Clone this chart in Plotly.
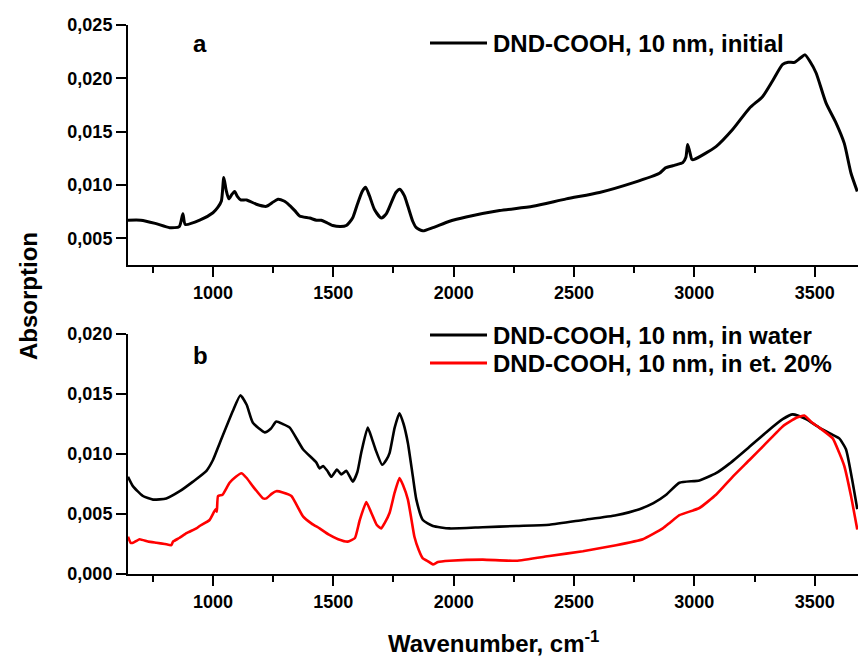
import plotly.graph_objects as go

# ---- spectrum (a): DND-COOH, 10 nm, initial ----
wn_a = [647, 700, 760, 820, 860, 875, 885, 945, 1000, 1020, 1035, 1045, 1055, 1066,
        1078, 1090, 1102, 1115, 1140, 1180, 1222, 1250, 1270, 1295, 1318, 1340, 1360,
        1402, 1430, 1450, 1470, 1498, 1530, 1554, 1580, 1600, 1620, 1634, 1650, 1671,
        1699, 1720, 1740, 1760, 1776, 1795, 1810, 1830, 1845, 1872, 1914, 1983, 2052,
        2191, 2329, 2468, 2606, 2744, 2855, 2880, 2910, 2940, 2952, 2965, 2972, 2980,
        2990, 3000, 3090, 3159, 3229, 3284, 3326, 3367, 3390, 3416, 3440, 3460, 3480,
        3506, 3547, 3589, 3623, 3651, 3677]
abs_initial = [0.0067, 0.0067, 0.0064, 0.0060, 0.0061, 0.0073, 0.0063, 0.0067, 0.0074,
               0.0079, 0.0085, 0.0107, 0.0095, 0.0087, 0.0091, 0.0094, 0.0089, 0.0086,
               0.0086, 0.0082, 0.0080, 0.0084, 0.00866, 0.0085, 0.0081, 0.0076, 0.0071,
               0.0069, 0.0067, 0.0067, 0.0065, 0.0062, 0.0061, 0.0062, 0.0069, 0.0082,
               0.0094, 0.0098, 0.0090, 0.0077, 0.0069, 0.0073, 0.0083, 0.0093, 0.0096,
               0.0090, 0.0080, 0.0066, 0.0060, 0.0057, 0.0060, 0.0066, 0.0070, 0.0076,
               0.0080, 0.0087, 0.0093, 0.0102, 0.0111, 0.0116, 0.0118, 0.0120, 0.0121,
               0.0126, 0.0138, 0.0132, 0.0124, 0.0124, 0.0136, 0.0152, 0.0172, 0.0183,
               0.0198, 0.0213, 0.0215, 0.0215, 0.0219, 0.0222, 0.0216, 0.0205, 0.0177,
               0.0158, 0.0139, 0.0111, 0.0094]

# ---- spectrum (b1): DND-COOH, 10 nm, in water ----
wn_water = [647, 668, 709, 751, 806, 862, 917, 973, 1000, 1028, 1083, 1114, 1140, 1166,
            1215, 1240, 1263, 1290, 1319, 1374, 1429, 1443, 1457, 1475, 1492, 1515, 1533,
            1554, 1581, 1600, 1616, 1643, 1660, 1675, 1703, 1720, 1734, 1755, 1775, 1792,
            1810, 1830, 1845, 1872, 1914, 1983, 2121, 2260, 2398, 2537, 2675, 2772, 2830,
            2883, 2938, 3021, 3090, 3146, 3229, 3298, 3367, 3409, 3464, 3519, 3575, 3602,
            3630, 3658, 3677]
abs_water = [0.0081, 0.0073, 0.0065, 0.0062, 0.0063, 0.0069, 0.0077, 0.0086, 0.0095,
             0.0109, 0.0136, 0.0149, 0.0141, 0.0126, 0.0118, 0.0121, 0.0127, 0.0125,
             0.0122, 0.0104, 0.0093, 0.0088, 0.0090, 0.0086, 0.0081, 0.0087, 0.0083,
             0.0086, 0.0077, 0.0085, 0.0101, 0.0122, 0.0113, 0.0104, 0.0091, 0.0095,
             0.0101, 0.0122, 0.0134, 0.0125, 0.0109, 0.0082, 0.0062, 0.0045, 0.0040,
             0.0038, 0.0039, 0.0040, 0.0041, 0.0045, 0.0049, 0.0054, 0.0059, 0.0066,
             0.0076, 0.0078, 0.0084, 0.0092, 0.0106, 0.0118, 0.0129, 0.0133, 0.0129,
             0.0122, 0.0116, 0.0113, 0.0104, 0.0076, 0.0054]

# ---- spectrum (b2): DND-COOH, 10 nm, in et. 20% ----
wn_ethanol = [647, 658, 668, 695, 730, 765, 800, 827, 834, 860, 890, 931, 945, 986, 1011,
              1016, 1021, 1040, 1069, 1095, 1118, 1140, 1166, 1208, 1222, 1245, 1263, 1290,
              1326, 1374, 1410, 1443, 1480, 1520, 1560, 1590, 1610, 1637, 1660, 1680, 1699,
              1715, 1734, 1755, 1775, 1790, 1810, 1825, 1837, 1855, 1872, 1890, 1914, 1935,
              1983, 2121, 2260, 2398, 2537, 2675, 2786, 2869, 2900, 2938, 3021, 3090, 3159,
              3229, 3298, 3367, 3422, 3457, 3490, 3519, 3575, 3602, 3623, 3651, 3677]
abs_ethanol = [0.0031, 0.0026, 0.0026, 0.0029, 0.0027, 0.0026, 0.0025, 0.0024, 0.0027,
               0.0030, 0.0034, 0.0038, 0.0040, 0.0045, 0.0054, 0.0052, 0.0065, 0.0066,
               0.0076, 0.0081, 0.0084, 0.0080, 0.0073, 0.0063, 0.0063, 0.0067, 0.0069,
               0.0068, 0.0065, 0.0048, 0.0042, 0.0038, 0.0033, 0.0029, 0.0027, 0.0030,
               0.0045, 0.0060, 0.0050, 0.0041, 0.0038, 0.0043, 0.0051, 0.0068, 0.0080,
               0.0074, 0.0062, 0.0045, 0.0031, 0.0020, 0.0013, 0.0011, 0.0008, 0.0010,
               0.0011, 0.0012, 0.0011, 0.0015, 0.0019, 0.0024, 0.0029, 0.0038, 0.0043,
               0.0049, 0.0055, 0.0066, 0.0081, 0.0095, 0.0109, 0.0123, 0.0130, 0.0132,
               0.0126, 0.0122, 0.0113, 0.0101, 0.0090, 0.0065, 0.0037]

# ---- tick labels ----
x_tickvals = [1000, 1500, 2000, 2500, 3000, 3500]
x_ticktext = ["1000", "1500", "2000", "2500", "3000", "3500"]
ya_tickvals = [0.005, 0.010, 0.015, 0.020, 0.025]
ya_ticktext = ["0,005", "0,010", "0,015", "0,020", "0,025"]
yb_tickvals = [0.000, 0.005, 0.010, 0.015, 0.020]
yb_ticktext = ["0,000", "0,005", "0,010", "0,015", "0,020"]

legend_a = "DND-COOH, 10 nm, initial"
legend_b1 = "DND-COOH, 10 nm, in water"
legend_b2 = "DND-COOH, 10 nm, in et. 20%"

W, H = 858, 658
ML, MR, MT, MB = 128, 0, 25, 84
PW, PH = W - ML - MR, H - MT - MB


def px(x):
    return (x - ML) / PW


def py(y):
    return (H - MB - y) / PH


FONT = "Arial, Liberation Sans, sans-serif"

fig = go.Figure()
fig.add_trace(go.Scatter(x=wn_a, y=abs_initial, mode="lines", xaxis="x", yaxis="y",
                         line=dict(color="black", width=3, shape="spline", smoothing=0.6),
                         showlegend=False))
fig.add_trace(go.Scatter(x=wn_water, y=abs_water, mode="lines", xaxis="x2", yaxis="y2",
                         line=dict(color="black", width=2.6, shape="spline", smoothing=0.5),
                         showlegend=False))
fig.add_trace(go.Scatter(x=wn_ethanol, y=abs_ethanol, mode="lines", xaxis="x2", yaxis="y2",
                         line=dict(color="#ff0000", width=2.6, shape="spline", smoothing=0.4),
                         showlegend=False))

tickfont = dict(family=FONT, size=18, color="black", weight="bold")
xcommon = dict(range=[647, 3680], tickvals=x_tickvals, ticktext=x_ticktext,
               showline=True, linecolor="black", linewidth=2, ticks="outside",
               ticklen=10, tickwidth=2, tickcolor="black", showgrid=False,
               zeroline=False, tickfont=tickfont,
               minor=dict(dtick=250, tick0=0, ticks="outside", ticklen=6,
                          tickwidth=2, tickcolor="black", showgrid=False))
ycommon = dict(showline=True, linecolor="black", linewidth=2, ticks="outside",
               ticklen=10, tickwidth=2, tickcolor="black", showgrid=False,
               zeroline=False, tickfont=tickfont)

top_lo, top_hi = py(265), py(25)
bot_lo, bot_hi = py(574), py(334)

fig.update_layout(
    width=W, height=H, autosize=False,
    margin=dict(l=ML, r=MR, t=MT, b=MB),
    paper_bgcolor="white", plot_bgcolor="white",
    xaxis=dict(anchor="y", domain=[0, 1], **xcommon),
    yaxis=dict(anchor="x", domain=[top_lo, top_hi], range=[0.0025, 0.025],
               tickvals=ya_tickvals, ticktext=ya_ticktext, **ycommon),
    xaxis2=dict(anchor="y2", domain=[0, 1], **xcommon),
    yaxis2=dict(anchor="x2", domain=[bot_lo, bot_hi], range=[0, 0.020],
                tickvals=yb_tickvals, ticktext=yb_ticktext, **ycommon),
)

big = dict(family=FONT, size=24, color="black", weight="bold")
notes = [
    dict(text="a", x=px(200), y=py(43)),
    dict(text="b", x=px(200), y=py(355)),
]
for n in notes:
    fig.add_annotation(xref="paper", yref="paper", showarrow=False,
                       xanchor="center", yanchor="middle", font=big, **n)

# legend entries: sample line + label
legend_rows = [(43, "black", legend_a), (335, "black", legend_b1), (363, "#ff0000", legend_b2)]
for yy, col, label in legend_rows:
    fig.add_shape(type="line", xref="paper", yref="paper",
                  x0=px(430), x1=px(487), y0=py(yy), y1=py(yy),
                  line=dict(color=col, width=3))
    fig.add_annotation(xref="paper", yref="paper", x=px(491), y=py(yy), text=label,
                       showarrow=False, xanchor="left", yanchor="middle", font=big)

fig.add_annotation(xref="paper", yref="paper", x=px(28), y=py(296), text="Absorption",
                   textangle=-90, showarrow=False, xanchor="center", yanchor="middle",
                   font=big)
fig.add_annotation(xref="paper", yref="paper", x=px(493), y=py(642),
                   text="Wavenumber, cm<sup>-1</sup>", showarrow=False,
                   xanchor="center", yanchor="middle", font=big)

fig.write_html("out.html")
